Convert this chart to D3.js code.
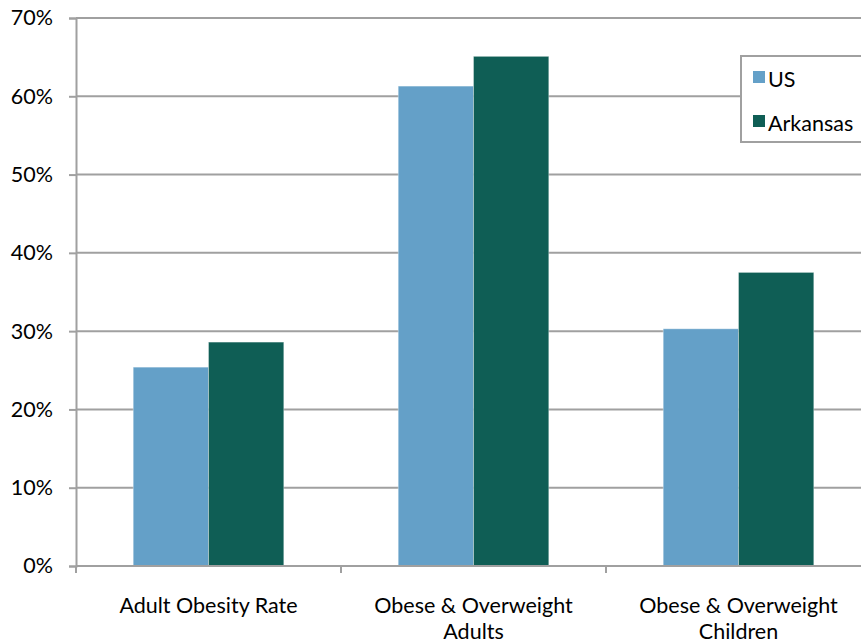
<!DOCTYPE html>
<html>
<head>
<meta charset="utf-8">
<script src="https://cdn.jsdelivr.net/npm/d3@7"></script>
<style>
  html, body { margin: 0; padding: 0; background: #fff; }
  svg { display: block; font-family: Lato, "Open Sans", sans-serif; }
</style>
</head>
<body>
<svg id="chart" width="861" height="644"></svg>
<script>
// Obesity rates: US vs Arkansas
const categories = [["Adult Obesity Rate"], ["Obese & Overweight", "Adults"], ["Obese & Overweight", "Children"]];
const series = ["US", "Arkansas"];
const usValues = [0.254, 0.613, 0.303];
const arkansasValues = [0.286, 0.651, 0.375];
const yTicks = [0, 0.1, 0.2, 0.3, 0.4, 0.5, 0.6, 0.7];
const colors = ["#64a0c8", "#0f5e55"];

const svg = d3.select("#chart");
const plotLeft = 76, plotRight = 871, plotTop = 18, plotBottom = 566;
const gridColor = "#a0a0a0";
const fontSize = 21.5;

const x = d3.scaleBand().domain(d3.range(categories.length)).range([plotLeft, plotRight]).padding(0);
const xs = d3.scaleBand().domain(series).range([0, x.bandwidth()]).paddingInner(0).paddingOuter(0.76);
const y = d3.scaleLinear().domain([0, 0.7]).range([plotBottom, plotTop]);

// horizontal gridlines
svg.append("g").selectAll("line").data(yTicks.slice(1)).join("line")
  .attr("x1", plotLeft).attr("x2", 861)
  .attr("y1", d => y(d)).attr("y2", d => y(d))
  .attr("stroke", gridColor).attr("stroke-width", 2);

// bars
const valuesBySeries = [usValues, arkansasValues];
const groups = svg.append("g").selectAll("g").data(categories.map((c, i) => i)).join("g")
  .attr("transform", i => `translate(${x(i)},0)`);
groups.selectAll("rect")
  .data(i => series.map((s, k) => ({ s, k, v: valuesBySeries[k][i] })))
  .join("rect")
  .attr("x", d => xs(d.s))
  .attr("width", xs.bandwidth())
  .attr("y", d => y(d.v))
  .attr("height", d => plotBottom - y(d.v))
  .attr("fill", d => colors[d.k])
  .attr("stroke", "#ffffff").attr("stroke-opacity", 0.35).attr("stroke-width", 1);

// y axis
const yAxis = svg.append("g").attr("transform", `translate(${plotLeft},0)`)
  .call(d3.axisLeft(y).tickValues(yTicks).tickFormat(d3.format(".0%")).tickSize(7).tickPadding(16));
yAxis.select(".domain").attr("stroke", gridColor).attr("stroke-width", 2);
yAxis.selectAll(".tick line").attr("stroke", gridColor).attr("stroke-width", 2);
yAxis.selectAll(".tick text").attr("font-size", fontSize).attr("fill", "#000")
  .attr("font-family", "Lato, 'Open Sans', sans-serif");

// x axis line and category ticks
svg.append("line").attr("x1", plotLeft).attr("x2", 861).attr("y1", plotBottom).attr("y2", plotBottom)
  .attr("stroke", gridColor).attr("stroke-width", 2);
svg.append("g").selectAll("line").data(d3.range(categories.length + 1)).join("line")
  .attr("x1", i => plotLeft + i * x.step()).attr("x2", i => plotLeft + i * x.step())
  .attr("y1", plotBottom).attr("y2", plotBottom + 7)
  .attr("stroke", gridColor).attr("stroke-width", 2);

// category labels
const labels = svg.append("g").selectAll("text").data(categories.map((c, i) => ({ c, i }))).join("text")
  .attr("x", d => x(d.i) + x.bandwidth() / 2)
  .attr("y", 613)
  .attr("text-anchor", "middle").attr("font-size", fontSize).attr("fill", "#000");
labels.selectAll("tspan").data(d => d.c).join("tspan")
  .attr("x", function () { return d3.select(this.parentNode).attr("x"); })
  .attr("dy", (d, j) => j === 0 ? 0 : 26)
  .text(d => d);

// legend
const legend = svg.append("g").attr("transform", "translate(741,56)");
legend.append("rect").attr("x", 0).attr("y", 0).attr("width", 140).attr("height", 86)
  .attr("fill", "#fff").attr("stroke", gridColor).attr("stroke-width", 2);
const items = legend.selectAll("g").data(series).join("g")
  .attr("transform", (d, k) => `translate(12,${15 + k * 44})`);
items.append("rect").attr("width", 12).attr("height", 12).attr("fill", (d, k) => colors[k]);
items.append("text").attr("x", 15).attr("y", 16).attr("font-size", 21.5).attr("fill", "#000").text(d => d);
</script>
</body>
</html>
